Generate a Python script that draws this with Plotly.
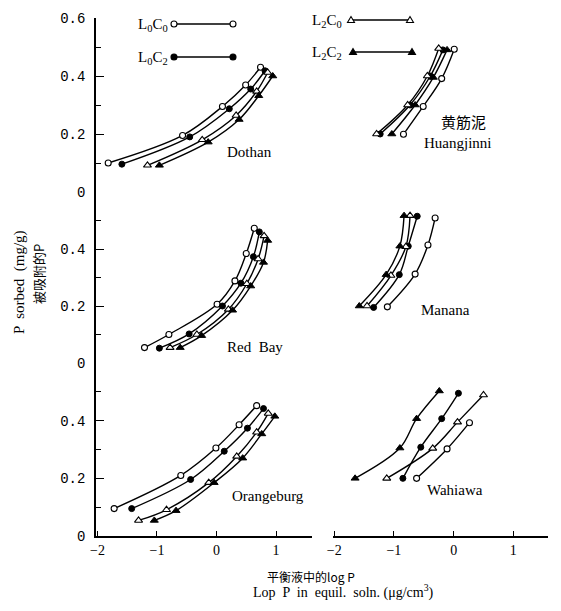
import plotly.graph_objects as go

# page is 561x611; the browser body adds an 8 px margin around the figure
PAGE_OFF = 8
W, H = 561 - 2 * PAGE_OFF, 611 - 2 * PAGE_OFF

treatments = ["L0C0", "L0C2", "L2C0", "L2C2"]
x_ticks = [-2, -1, 0, 1]
y_ticks_low = [0, 0.2, 0.4]
y_ticks_top = [0, 0.2, 0.4, 0.6]

# ---- Dothan (top left) ----
dothan_L0C0_x = [-1.82, -0.57, 0.10, 0.49, 0.74]
dothan_L0C0_y = [0.100, 0.195, 0.295, 0.369, 0.430]
dothan_L0C2_x = [-1.59, -0.45, 0.215, 0.575, 0.815]
dothan_L0C2_y = [0.096, 0.190, 0.287, 0.355, 0.418]
dothan_L2C0_x = [-1.16, -0.24, 0.33, 0.675, 0.86]
dothan_L2C0_y = [0.092, 0.180, 0.264, 0.347, 0.412]
dothan_L2C2_x = [-0.96, -0.14, 0.38, 0.71, 0.945]
dothan_L2C2_y = [0.092, 0.172, 0.250, 0.332, 0.400]

# ---- Huangjinni (top right) ----
huang_L0C0_x = [-0.84, -0.51, -0.20, 0.01]
huang_L0C0_y = [0.199, 0.295, 0.391, 0.492]
huang_L0C2_x = [-1.23, -0.73, -0.39, -0.18]
huang_L0C2_y = [0.200, 0.300, 0.400, 0.490]
huang_L2C0_x = [-1.29, -0.77, -0.44, -0.25]
huang_L2C0_y = [0.200, 0.300, 0.400, 0.495]
huang_L2C2_x = [-1.035, -0.645, -0.34, -0.11]
huang_L2C2_y = [0.200, 0.300, 0.395, 0.490]

# ---- Red Bay (middle left) ----
redbay_L0C0_x = [-1.21, -0.80, 0.01, 0.31, 0.50, 0.635]
redbay_L0C0_y = [0.054, 0.100, 0.206, 0.288, 0.384, 0.473]
redbay_L0C2_x = [-0.96, -0.46, 0.10, 0.41, 0.62, 0.72]
redbay_L0C2_y = [0.052, 0.102, 0.200, 0.280, 0.373, 0.460]
redbay_L2C0_x = [-0.78, -0.33, 0.20, 0.51, 0.70, 0.80]
redbay_L2C0_y = [0.054, 0.100, 0.188, 0.278, 0.365, 0.446]
redbay_L2C2_x = [-0.61, -0.25, 0.27, 0.575, 0.79, 0.86]
redbay_L2C2_y = [0.054, 0.096, 0.185, 0.270, 0.353, 0.430]

# ---- Manana (middle right) ----
manana_L0C0_x = [-1.11, -0.645, -0.43, -0.31]
manana_L0C0_y = [0.197, 0.312, 0.414, 0.509]
manana_L0C2_x = [-1.34, -0.91, -0.76, -0.61]
manana_L0C2_y = [0.195, 0.310, 0.410, 0.515]
manana_L2C0_x = [-1.45, -1.05, -0.80, -0.73]
manana_L2C0_y = [0.200, 0.307, 0.408, 0.517]
manana_L2C2_x = [-1.58, -1.13, -0.90, -0.83]
manana_L2C2_y = [0.200, 0.310, 0.410, 0.517]

# ---- Orangeburg (bottom left) ----
orange_L0C0_x = [-1.72, -0.60, -0.01, 0.38, 0.675]
orange_L0C0_y = [0.095, 0.210, 0.305, 0.386, 0.452]
orange_L0C2_x = [-1.425, -0.435, 0.13, 0.52, 0.79]
orange_L0C2_y = [0.095, 0.196, 0.294, 0.374, 0.442]
orange_L2C0_x = [-1.31, -0.84, -0.13, 0.34, 0.675, 0.87]
orange_L2C0_y = [0.054, 0.091, 0.185, 0.276, 0.360, 0.425]
orange_L2C2_x = [-1.045, -0.68, -0.04, 0.44, 0.76, 0.98]
orange_L2C2_y = [0.054, 0.088, 0.185, 0.270, 0.354, 0.415]

# ---- Wahiawa (bottom right) ----
wahiawa_L0C0_x = [-0.62, -0.11, 0.265]
wahiawa_L0C0_y = [0.200, 0.302, 0.393]
wahiawa_L0C2_x = [-0.85, -0.55, -0.20, 0.08]
wahiawa_L0C2_y = [0.200, 0.308, 0.407, 0.495]
wahiawa_L2C0_x = [-1.12, -0.35, 0.065, 0.50]
wahiawa_L2C0_y = [0.200, 0.304, 0.395, 0.489]
wahiawa_L2C2_x = [-1.65, -0.90, -0.62, -0.24]
wahiawa_L2C2_y = [0.200, 0.305, 0.407, 0.503]

panels = [
    ("x", "y3", {"L0C0": (dothan_L0C0_x, dothan_L0C0_y), "L0C2": (dothan_L0C2_x, dothan_L0C2_y),
                 "L2C0": (dothan_L2C0_x, dothan_L2C0_y), "L2C2": (dothan_L2C2_x, dothan_L2C2_y)}),
    ("x2", "y3", {"L0C0": (huang_L0C0_x, huang_L0C0_y), "L0C2": (huang_L0C2_x, huang_L0C2_y),
                  "L2C0": (huang_L2C0_x, huang_L2C0_y), "L2C2": (huang_L2C2_x, huang_L2C2_y)}),
    ("x", "y2", {"L0C0": (redbay_L0C0_x, redbay_L0C0_y), "L0C2": (redbay_L0C2_x, redbay_L0C2_y),
                 "L2C0": (redbay_L2C0_x, redbay_L2C0_y), "L2C2": (redbay_L2C2_x, redbay_L2C2_y)}),
    ("x2", "y2", {"L0C0": (manana_L0C0_x, manana_L0C0_y), "L0C2": (manana_L0C2_x, manana_L0C2_y),
                  "L2C0": (manana_L2C0_x, manana_L2C0_y), "L2C2": (manana_L2C2_x, manana_L2C2_y)}),
    ("x", "y", {"L0C0": (orange_L0C0_x, orange_L0C0_y), "L0C2": (orange_L0C2_x, orange_L0C2_y),
                "L2C0": (orange_L2C0_x, orange_L2C0_y), "L2C2": (orange_L2C2_x, orange_L2C2_y)}),
    ("x2", "y", {"L0C0": (wahiawa_L0C0_x, wahiawa_L0C0_y), "L0C2": (wahiawa_L0C2_x, wahiawa_L0C2_y),
                 "L2C0": (wahiawa_L2C0_x, wahiawa_L2C0_y), "L2C2": (wahiawa_L2C2_x, wahiawa_L2C2_y)}),
]

marker_style = {
    "L0C0": dict(symbol="circle", size=6, color="white", line=dict(color="black", width=1.1)),
    "L0C2": dict(symbol="circle", size=6, color="black", line=dict(color="black", width=1)),
    "L2C0": dict(symbol="triangle-up", size=7, color="white", line=dict(color="black", width=1.1)),
    "L2C2": dict(symbol="triangle-up", size=7, color="black", line=dict(color="black", width=1)),
}

fig = go.Figure()
for xa, ya, series in panels:
    for t in treatments:
        xs, ys = series[t]
        fig.add_trace(go.Scatter(
            x=xs, y=ys, xaxis=xa, yaxis=ya, mode="lines+markers",
            line=dict(color="black", width=1.4, shape="spline", smoothing=1.0),
            marker=marker_style[t], showlegend=False, hoverinfo="skip"))

SERIF = "Liberation Serif"
tickfont_y = dict(family="Liberation Mono", size=14, color="black")
tickfont_x = dict(family=SERIF, size=14, color="black")


def px(xp):
    """page pixel x -> paper fraction"""
    return (xp - PAGE_OFF) / W


def py(yp):
    """page pixel y -> paper fraction"""
    return 1 - (yp - PAGE_OFF) / H


def xaxis_cfg(dom, rng):
    return dict(domain=dom, range=rng, anchor="y", showline=True, linecolor="black", linewidth=1.5,
                ticks="inside", ticklen=5, tickwidth=1.2, tickcolor="black", tickvals=x_ticks,
                showgrid=False, zeroline=False, tickfont=tickfont_x, fixedrange=True,
                automargin=False)


def yaxis_cfg(dom, tv):
    return dict(domain=dom, range=[0, 0.6], anchor="x", showline=True, linecolor="black", linewidth=1.5,
                ticks="inside", ticklen=8, tickwidth=1.2, tickcolor="black", tickvals=tv,
                ticklabelstandoff=6,
                minor=dict(ticks="inside", ticklen=5, tickwidth=1, tickcolor="black",
                           tickmode="linear", tick0=0, dtick=0.1, showgrid=False),
                showgrid=False, zeroline=False, tickfont=tickfont_y, fixedrange=True,
                automargin=False)


layout = dict(
    width=W, height=H, margin=dict(l=0, r=0, t=0, b=0, pad=0, autoexpand=False),
    paper_bgcolor="white", plot_bgcolor="white", showlegend=False,
    xaxis=xaxis_cfg([px(96), px(312)], [-2.025, 1.605]),
    xaxis2=xaxis_cfg([px(333), px(548)], [-2.02, 1.58]),
    yaxis=yaxis_cfg([py(536), py(363)], y_ticks_low),
    yaxis2=yaxis_cfg([py(363), py(192)], y_ticks_low),
    yaxis3=yaxis_cfg([py(192), py(18)], y_ticks_top),
)
fig.update_layout(**layout)

anns = []
shapes = []

# panel labels
panel_labels = [
    ("Dothan", "x", "y3", 0.56, 0.137),
    ("黄筋泥", "x2", "y3", 0.16, 0.243),
    ("Huangjinni", "x2", "y3", 0.075, 0.168),
    ("Red  Bay", "x", "y2", 0.65, 0.057),
    ("Manana", "x2", "y2", -0.14, 0.185),
    ("Orangeburg", "x", "y", 0.87, 0.14),
    ("Wahiawa", "x2", "y", 0.025, 0.161),
]
for txt, xa, ya, xv, yv in panel_labels:
    fam = "Noto Sans CJK SC" if txt == "黄筋泥" else SERIF
    anns.append(dict(text=txt, xref=xa, yref=ya, x=xv, y=yv, showarrow=False,
                     font=dict(family=fam, size=15, color="black"), xanchor="center", yanchor="middle"))

# custom legend (label on the left, line with a symbol at each end)
legend_rows = [
    ("L<sub>0</sub>C<sub>0</sub>", "L0C0", 170, 174, 233, 24),
    ("L<sub>0</sub>C<sub>2</sub>", "L0C2", 170, 174, 233, 57),
    ("L<sub>2</sub>C<sub>0</sub>", "L2C0", 344, 351, 410, 20),
    ("L<sub>2</sub>C<sub>2</sub>", "L2C2", 344, 353, 412, 52),
]
for label, t, tx, x0, x1, yy in legend_rows:
    anns.append(dict(text=label, xref="paper", yref="paper", x=px(tx), y=py(yy + 1), showarrow=False,
                     xanchor="right", yanchor="middle", font=dict(family=SERIF, size=15, color="black")))
    shapes.append(dict(type="line", xref="paper", yref="paper", x0=px(x0), x1=px(x1), y0=py(yy), y1=py(yy),
                       line=dict(color="black", width=1.4)))
    fill = "black" if t.endswith("C2") else "white"
    for xe in (x0, x1):
        if t.startswith("L0"):
            shapes.append(dict(type="circle", xref="paper", yref="paper", xsizemode="pixel", ysizemode="pixel",
                               xanchor=px(xe), yanchor=py(yy), x0=-3, x1=3, y0=-3, y1=3,
                               fillcolor=fill, line=dict(color="black", width=1.1)))
        else:
            shapes.append(dict(type="path", xref="paper", yref="paper", xsizemode="pixel", ysizemode="pixel",
                               xanchor=px(xe), yanchor=py(yy), path="M -3.5 -2.5 L 3.5 -2.5 L 0 3.5 Z",
                               fillcolor=fill, line=dict(color="black", width=1.1)))

# axis titles
anns.append(dict(text="P  sorbed  (mg/g)", xref="paper", yref="paper", x=px(20), y=py(282), textangle=-90,
                 showarrow=False, font=dict(family=SERIF, size=15, color="black"),
                 xanchor="center", yanchor="middle"))
anns.append(dict(text="被吸附的P", xref="paper", yref="paper", x=px(38), y=py(274), textangle=-90,
                 showarrow=False, font=dict(family="Noto Sans CJK SC", size=13, color="black"),
                 xanchor="center", yanchor="middle"))
anns.append(dict(text="平衡液中的log P", xref="paper", yref="paper", x=px(311), y=py(576),
                 showarrow=False, font=dict(family="Noto Sans CJK SC", size=12, color="black"),
                 xanchor="center", yanchor="middle"))
anns.append(dict(text="Lop  P  in  equil.  soln. (μg/cm<sup>3</sup>)", xref="paper", yref="paper",
                 x=px(343), y=py(603), showarrow=False, font=dict(family=SERIF, size=14, color="black"),
                 xanchor="center", yanchor="bottom"))

fig.update_layout(annotations=anns, shapes=shapes)
fig.write_html("out.html")
